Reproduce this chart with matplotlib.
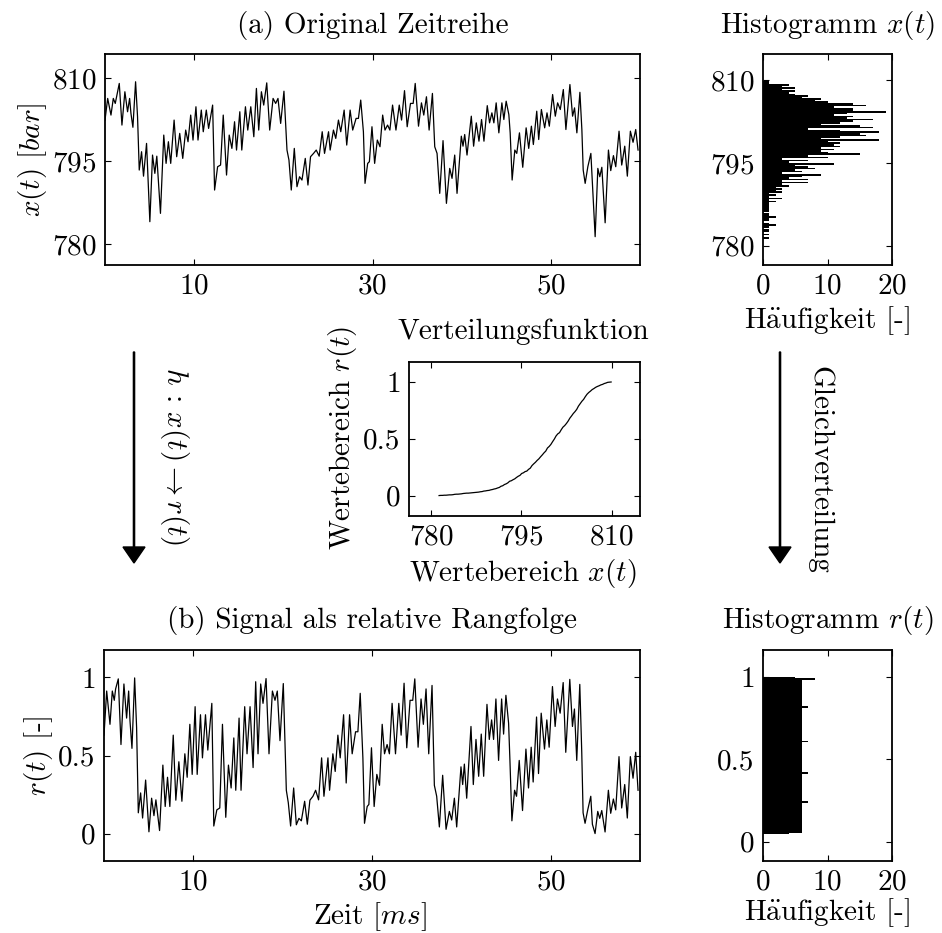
import numpy as np
import matplotlib
matplotlib.use("Agg")
import matplotlib.pyplot as plt
from matplotlib.patches import FancyArrow

plt.rcParams['font.family'] = 'serif'
plt.rcParams['font.serif'] = ['cmr10']
plt.rcParams['mathtext.fontset'] = 'cm'
plt.rcParams['axes.formatter.use_mathtext'] = True
plt.rcParams['axes.unicode_minus'] = False

# ---------------- data ----------------
t_ms = [0.00,0.30,0.67,0.93,1.15,1.30,1.60,1.90,2.23,2.53,
        2.76,2.91,3.13,3.43,3.65,3.84,4.10,4.32,4.66,5.03,
        5.33,5.59,5.81,6.22,6.59,6.85,7.11,7.37,7.75,8.04,
        8.38,8.72,9.05,9.31,9.61,9.87,10.20,10.43,10.80,11.02,
        11.36,11.62,12.07,12.29,12.63,12.96,13.26,13.63,13.93,14.23,
        14.53,14.75,15.12,15.34,15.75,16.01,16.35,16.69,16.98,17.24,
        17.54,17.80,18.14,18.47,18.85,19.14,19.40,19.70,20.07,20.41,
        20.63,20.89,21.23,21.53,21.82,22.09,22.46,22.76,23.05,23.39,
        23.69,24.02,24.36,24.62,25.07,25.25,25.62,25.88,26.18,26.44,
        26.82,27.11,27.49,27.78,28.16,28.42,28.68,28.98,29.16,29.46,
        29.65,29.94,30.24,30.54,30.84,31.14,31.40,31.69,31.95,32.25,
        32.63,33.00,33.26,33.59,33.89,34.26,34.56,34.79,35.16,35.49,
        35.75,36.05,36.35,36.72,36.98,37.24,37.54,37.91,38.29,38.66,
        38.92,39.22,39.48,
        39.96,40.15,40.34,40.60,41.08,41.34,41.64,41.94,42.23,42.50,
        42.87,43.13,43.39,43.61,43.87,44.17,44.51,44.73,44.99,45.29,
        45.44,45.66,45.96,46.18,46.48,46.85,47.23,47.52,47.82,48.04,
        48.42,48.64,48.94,49.31,49.57,49.83,50.20,50.50,50.76,51.06,
        51.40,51.69,52.14,52.44,52.66,52.92,53.26,53.48,53.63,53.85,
        54.15,54.49,54.67,54.97,55.27,55.49,55.72,56.09,56.46,56.72,
        57.02,57.28,57.65,57.95,58.29,58.58,58.92,59.22,59.52,59.78]

x_bar = [802.4,806.3,803.3,806.3,805.4,806.6,809.0,801.5,807.5,803.9,
         806.3,803.6,801.1,809.3,803.0,793.4,796.7,792.3,798.2,784.1,
         796.1,792.8,795.9,785.6,799.7,794.6,798.5,794.6,802.4,795.8,
         800.0,795.5,800.6,798.5,803.3,798.8,804.8,798.8,804.2,800.3,
         804.2,800.9,805.1,789.8,794.0,794.3,803.3,792.5,799.7,797.3,
         802.1,797.0,803.9,797.0,804.8,800.6,804.8,799.4,808.1,800.6,
         807.5,805.1,809.1,800.6,806.3,805.4,806.3,801.8,807.6,797.0,
         795.2,789.8,797.3,790.4,792.2,791.6,795.5,790.7,795.8,796.4,
         797.0,795.9,800.3,796.4,800.3,797.0,800.6,799.1,802.4,800.3,
         804.2,797.9,804.2,800.6,802.7,802.7,806.0,800.3,791.0,794.6,
         794.9,801.2,794.6,798.8,797.6,803.3,800.6,801.5,800.6,805.1,
         800.6,805.1,802.4,807.7,801.2,805.4,805.4,809.0,801.3,805.5,
         803.3,806.6,800.6,807.2,797.6,796.4,789.2,798.7,787.4,793.7,
         791.9,796.1,789.2,
         799.5,797.7,799.8,796.1,803.1,797.7,801.9,798.6,802.5,798.6,
         805.0,801.9,803.7,801.9,805.5,800.1,805.5,802.5,805.8,803.4,
         800.1,791.6,797.0,796.4,800.1,793.9,801.0,797.3,801.3,798.0,
         804.0,798.9,804.3,801.0,803.7,801.3,807.0,803.1,805.5,804.3,
         807.9,800.7,808.8,803.1,804.6,800.1,807.4,800.7,793.4,791.0,
         794.0,796.4,790.7,781.4,793.7,792.2,793.9,783.9,797.0,793.3,
         796.0,794.0,800.4,794.3,797.7,792.3,800.4,798.4,800.7,797.0]

# histogram of x(t): 100 bins between these limits
x_hist_range = (781.3, 809.9)
x_hist_counts = [1,0,1,0,1,1,0,1,2,1,0,1,1,2,1,1,0,1,1,1,1,1,1,2,
                 1,3,1,2,1,3,2,3,2,4,3,7,3,7,4,6,9,3,6,5,8,7,5,11,4,
                 7,3,10,7,15,10,9,11,9,12,11,12,10,18,9,12,16,15,18,12,
                 7,17,15,9,12,14,17,13,14,11,13,19,14,14,11,16,14,10,8,9,
                 6,7,5,4,5,3,5,3,4,1,1]

# histogram of r(t): 96 bins between these limits
r_hist_range = (0.045, 1.0)
r_hist_counts = [4,6,6,6,6,6,6,6,6,6, 6,6,6,6,6,6,6,6,6,7,
                 6,6,6,6,6,6,6,6,6,6, 6,6,6,6,6,6,6,7,6,6,
                 6,6,6,6,6,6,6,6,6,6, 6,6,6,6,6,6,7,6,6,6,
                 6,6,6,6,6,6,6,6,6,6, 6,6,6,6,6,6,6,7,6,6,
                 6,6,6,6,6,6,6,6,6,6, 6,6,6,6,8,5]

x_ticks = [10, 30, 50]
xval_ticks = [780, 795, 810]
r_ticks = [0, 0.5, 1]
r_ticklabels = ['0', '0.5', '1']
count_ticks = [0, 10, 20]

# ---------------- derived ----------------
t_ms = np.array(t_ms)
x_bar = np.array(x_bar)
xc = np.array(x_hist_counts, dtype=float)
x_edges = np.linspace(x_hist_range[0], x_hist_range[1], len(xc) + 1)
x_centers = 0.5 * (x_edges[:-1] + x_edges[1:])
x_bw = x_edges[1] - x_edges[0]
cdf = np.concatenate([[0.0], np.cumsum(xc)]) / xc.sum()
r_sig = np.interp(x_bar, x_edges, cdf)

rc = np.array(r_hist_counts, dtype=float)
r_edges = np.linspace(r_hist_range[0], r_hist_range[1], len(rc) + 1)
r_centers = 0.5 * (r_edges[:-1] + r_edges[1:])
r_bw = r_edges[1] - r_edges[0]

# ---------------- figure ----------------
W, H = 942, 933
fig = plt.figure(figsize=(W / 100, H / 100), dpi=100)
FS = 21

def px_axes(l, t, r, b):
    return fig.add_axes([l / W, 1 - b / H, (r - l) / W, (b - t) / H])

def style(ax):
    ax.tick_params(direction='in', top=True, right=True, length=4.5,
                   width=0.8, labelsize=FS)
    ax.tick_params(axis='x', pad=6)
    ax.tick_params(axis='y', pad=6)
    for s in ax.spines.values():
        s.set_linewidth(1.3)

# (a) original series
ax1 = px_axes(105, 54, 640, 265)
ax1.plot(t_ms, x_bar, color='black', lw=0.9)
ax1.set_xlim(0, 60)
ax1.set_ylim(776.3, 814.3)
ax1.set_xticks(x_ticks)
ax1.set_yticks(xval_ticks)
style(ax1)
ax1.set_ylabel(r'$x(t)\ [bar]$', fontsize=FS, va='center')
ax1.yaxis.set_label_coords(-0.135, 0.5)
ax1.text(0.5, 1.137, '(a) Original Zeitreihe', transform=ax1.transAxes,
         ha='center', va='center', fontsize=FS)

# histogram x(t)
ax2 = px_axes(763, 54, 892, 265)
ax2.barh(x_centers, xc, height=x_bw, color='black', edgecolor='none')
ax2.set_xlim(0, 20)
ax2.set_ylim(776.5, 814.8)
ax2.set_xticks(count_ticks)
ax2.set_yticks(xval_ticks)
style(ax2)
ax2.set_xlabel(r'H$\ddot{\mathrm{a}}$ufigkeit [-]', fontsize=FS, va='center')
ax2.xaxis.set_label_coords(0.5, -0.262)
ax2.text(0.5, 1.137, r'Histogramm $x(t)$', transform=ax2.transAxes,
         ha='center', va='center', fontsize=FS)

# distribution function
ax3 = px_axes(409, 362, 640, 516)
ax3.plot(x_edges, cdf, color='black', lw=0.9)
ax3.set_xlim(776.3, 814.7)
ax3.set_ylim(-0.18, 1.176)
ax3.set_xticks(xval_ticks)
ax3.set_yticks(r_ticks)
ax3.set_yticklabels(r_ticklabels)
style(ax3)
ax3.set_xlabel(r'Wertebereich $x(t)$', fontsize=FS, va='center')
ax3.xaxis.set_label_coords(0.494, -0.375)
ax3.set_ylabel(r'Wertebereich $r(t)$', fontsize=FS, va='center')
ax3.yaxis.set_label_coords(-0.29, 0.51)
ax3.text(0.494, 1.195, 'Verteilungsfunktion', transform=ax3.transAxes,
         ha='center', va='center', fontsize=FS)

# (b) rank signal
ax4 = px_axes(104, 650, 640, 861)
ax4.plot(t_ms, r_sig, color='black', lw=0.9)
ax4.set_xlim(0, 60)
ax4.set_ylim(-0.175, 1.175)
ax4.set_xticks(x_ticks)
ax4.set_yticks(r_ticks)
ax4.set_yticklabels(r_ticklabels)
style(ax4)
ax4.set_xlabel(r'Zeit $[ms]$', fontsize=FS, va='center')
ax4.xaxis.set_label_coords(0.496, -0.262)
ax4.set_ylabel(r'$r(t)$ [-]', fontsize=FS, va='center')
ax4.yaxis.set_label_coords(-0.123, 0.5)
ax4.text(0.5, 1.142, '(b) Signal als relative Rangfolge', transform=ax4.transAxes,
         ha='center', va='center', fontsize=FS)

# histogram r(t)
ax5 = px_axes(763, 650, 892, 861)
ax5.barh(r_centers, rc, height=r_bw, color='black', edgecolor='none')
ax5.set_xlim(0, 20)
ax5.set_ylim(-0.118, 1.163)
ax5.set_xticks(count_ticks)
ax5.set_yticks(r_ticks)
ax5.set_yticklabels(r_ticklabels)
style(ax5)
ax5.set_xlabel(r'H$\ddot{\mathrm{a}}$ufigkeit [-]', fontsize=FS, va='center')
ax5.xaxis.set_label_coords(0.5, -0.245)
ax5.text(0.5, 1.142, r'Histogramm $r(t)$', transform=ax5.transAxes,
         ha='center', va='center', fontsize=FS)

# arrows and annotations (figure inches)
for xa in (1.34, 7.80):
    fig.add_artist(FancyArrow(xa, (H - 352) / 100, 0, -(563 - 352) / 100,
                              width=0.012, head_width=0.22, head_length=0.16,
                              length_includes_head=True, color='black',
                              transform=fig.dpi_scale_trans))
fig.text(1.74 / (W / 100), 1 - 456 / H, r'$h\,:\,x(t) \rightarrow r(t)$',
         rotation=-90, ha='center', va='center', fontsize=FS)
fig.text(8.20 / (W / 100), 1 - 470 / H, 'Gleichverteilung',
         rotation=-90, ha='center', va='center', fontsize=FS)

fig.savefig('out.png', dpi=100)
